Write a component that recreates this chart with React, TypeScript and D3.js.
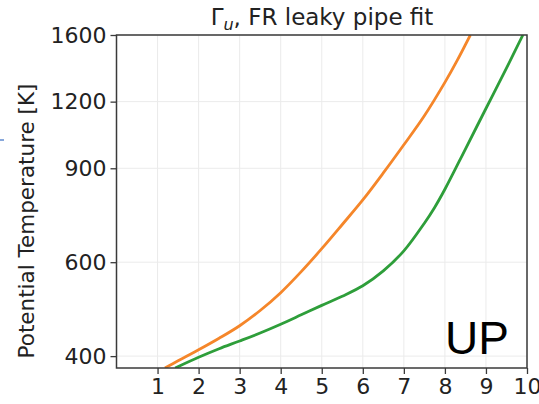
import React, { useEffect, useRef } from 'react'
import * as d3 from 'd3'

// orange curve: x value vs potential temperature
const orangeX = [1.18, 1.5, 2, 2.5, 3, 3.5, 4, 4.5, 5, 5.5, 6, 6.5, 7, 7.5, 8, 8.3, 8.62]
const orangeT = [380, 392, 411, 432, 456, 487, 526, 576, 636, 706, 785, 882, 996, 1129, 1304, 1434, 1600]

// green curve
const greenX = [1.43, 2, 2.5, 3, 3.5, 4, 4.5, 5, 5.5, 6, 6.5, 7, 7.5, 7.75, 8, 8.5, 9, 9.5, 9.9]
const greenT = [380, 398, 413, 427, 442, 459, 478, 498, 518, 542, 578, 630, 710, 760, 822, 978, 1165, 1387, 1600]

const xTicks = [1, 2, 3, 4, 5, 6, 7, 8, 9, 10]
const yTicks = [400, 600, 900, 1200, 1600]

const W = 539, H = 404

export default function App() {
  const ref = useRef<SVGSVGElement>(null)

  useEffect(() => {
    const svg = d3.select(ref.current)
    svg.selectAll('*').remove()

    const left = 116.5, right = 527, top = 35, bottom = 368

    const x = d3.scaleLinear().domain([0, 10]).range([left, right])
    const y = d3.scaleLog().domain([380, 1600]).range([bottom, top])

    const g = svg.append('g')

    // grid
    g.selectAll('line.vgrid').data(xTicks).enter().append('line')
      .attr('x1', d => x(d)).attr('x2', d => x(d))
      .attr('y1', top).attr('y2', bottom)
      .attr('stroke', '#ebebeb').attr('stroke-width', 1)
    g.selectAll('line.hgrid').data(yTicks).enter().append('line')
      .attr('x1', left).attr('x2', right)
      .attr('y1', d => y(d)).attr('y2', d => y(d))
      .attr('stroke', '#ebebeb').attr('stroke-width', 1)

    const line = d3.line<[number, number]>()
      .x(d => x(d[0]))
      .y(d => y(d[1]))
      .curve(d3.curveCatmullRom.alpha(0.5))

    const clip = svg.append('clipPath').attr('id', 'plotclip')
    clip.append('rect').attr('x', left).attr('y', top).attr('width', right - left).attr('height', bottom - top)

    const curves = [
      { xs: orangeX, ts: orangeT, color: '#f5862a' },
      { xs: greenX, ts: greenT, color: '#2e9e3a' },
    ]
    curves.forEach(c => {
      const pts = c.xs.map((v, i) => [v, c.ts[i]] as [number, number])
      g.append('path')
        .attr('d', line(pts))
        .attr('fill', 'none')
        .attr('stroke', c.color)
        .attr('stroke-width', 2.8)
        .attr('clip-path', 'url(#plotclip)')
    })

    // frame
    g.append('rect')
      .attr('x', left).attr('y', top)
      .attr('width', right - left).attr('height', bottom - top)
      .attr('fill', 'none').attr('stroke', '#3a3a3a').attr('stroke-width', 1.5)

    const xAxis = d3.axisBottom(x).tickValues(xTicks).tickSize(6).tickPadding(4).tickFormat(d3.format('d'))
    const xa = g.append('g').attr('transform', `translate(0,${bottom})`).call(xAxis)
    const yAxis = d3.axisLeft(y).tickValues(yTicks).tickSize(6).tickPadding(4).tickFormat(d3.format('d'))
    const ya = g.append('g').attr('transform', `translate(${left},0)`).call(yAxis)

    ;[xa, ya].forEach(a => {
      a.select('.domain').remove()
      a.selectAll('line').attr('stroke', '#3a3a3a').attr('stroke-width', 1.3)
      a.selectAll('text')
        .attr('fill', '#222')
        .style('font-family', 'DejaVu Sans')
        .style('font-size', '22px')
    })

    svg.append('text')
      .attr('transform', `translate(34,221) rotate(-90)`)
      .attr('text-anchor', 'middle')
      .style('font-family', 'DejaVu Sans')
      .style('font-size', '21.5px')
      .attr('fill', '#222')
      .text('Potential Temperature [K]')

    const title = svg.append('text')
      .attr('x', 322)
      .attr('y', 25)
      .attr('text-anchor', 'middle')
      .style('font-family', 'DejaVu Sans')
      .style('font-size', '23px')
      .attr('fill', '#222')
    title.append('tspan').text('Γ')
    title.append('tspan').attr('font-style', 'italic').attr('font-size', '16px').attr('dy', 5).text('u')
    title.append('tspan').attr('dy', -5).text(', FR leaky pipe fit')

    svg.append('text')
      .attr('x', 445).attr('y', 354)
      .style('font-family', 'Liberation Sans')
      .style('font-size', '46px')
      .attr('fill', '#000')
      .text('UP')

    // small blue mark cut off at the left edge
    svg.append('line')
      .attr('x1', 0).attr('x2', 4).attr('y1', 140).attr('y2', 140)
      .attr('stroke', '#3a6fc4').attr('stroke-width', 1.2)
  }, [])

  return (
    <svg ref={ref} width={W} height={H}
      style={{ position: 'absolute', left: 0, top: 0, background: '#fff' }} />
  )
}
